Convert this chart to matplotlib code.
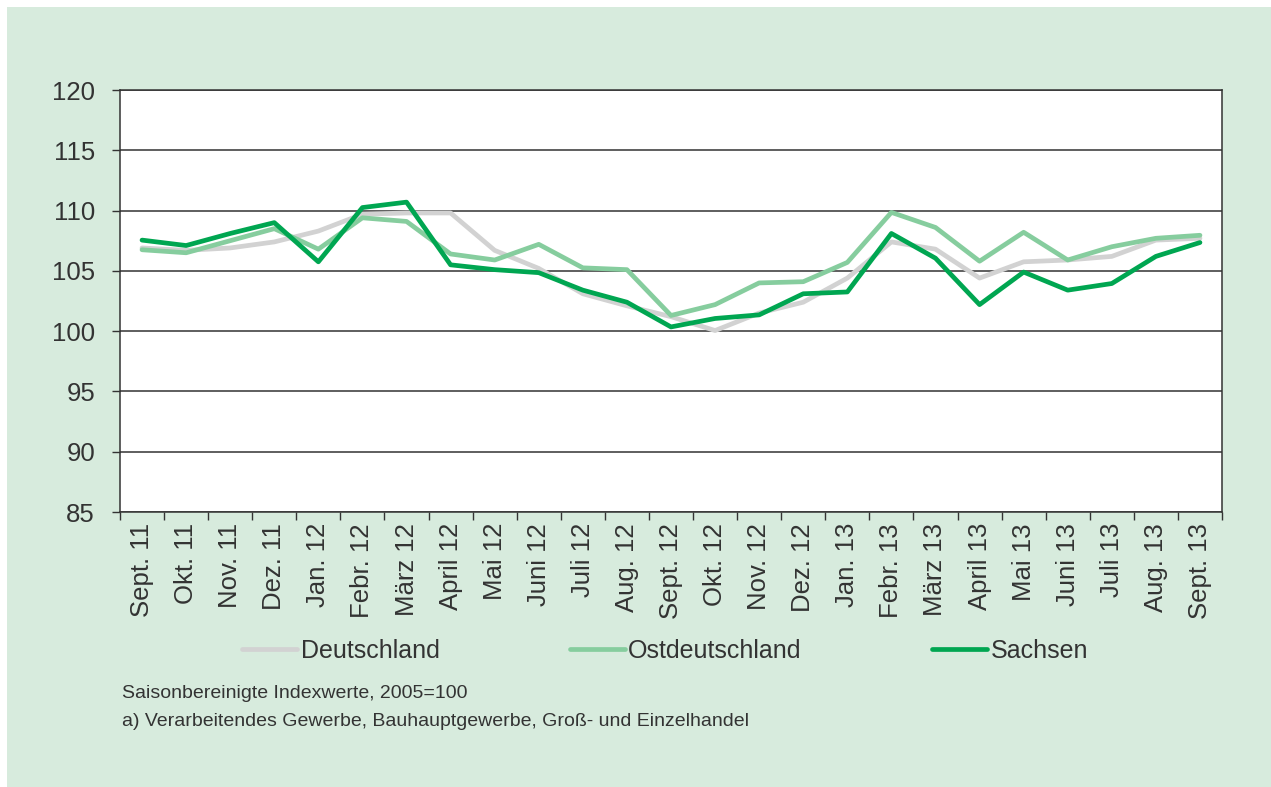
import matplotlib
matplotlib.use("Agg")
import matplotlib.pyplot as plt
from matplotlib.patches import Rectangle
import numpy as np

plt.rcParams["font.family"] = ["Liberation Sans", "DejaVu Sans"]

MONTHS = ["Sept. 11", "Okt. 11", "Nov. 11", "Dez. 11", "Jan. 12", "Febr. 12", "März 12",
          "April 12", "Mai 12", "Juni 12", "Juli 12", "Aug. 12", "Sept. 12", "Okt. 12",
          "Nov. 12", "Dez. 12", "Jan. 13", "Febr. 13", "März 13", "April 13", "Mai 13",
          "Juni 13", "Juli 13", "Aug. 13", "Sept. 13"]
deutschland = [106.9, 106.7, 106.9, 107.4, 108.3, 109.7, 109.8, 109.8, 106.7, 105.2, 103.1, 102.1,
               101.2, 100.05, 101.5, 102.4, 104.4, 107.4, 106.8, 104.4, 105.75, 105.9, 106.2, 107.55, 107.7]
ostdeutschland = [106.75, 106.5, 107.5, 108.5, 106.8, 109.4, 109.1, 106.4, 105.9, 107.2, 105.25, 105.1,
                  101.3, 102.2, 104.0, 104.1, 105.7, 109.85, 108.6, 105.8, 108.2, 105.9, 107.0, 107.7, 107.95]
sachsen = [107.55, 107.1, 108.1, 109.0, 105.75, 110.25, 110.7, 105.5, 105.1, 104.85, 103.4, 102.4,
           100.35, 101.05, 101.35, 103.1, 103.25, 108.1, 106.05, 102.2, 104.9, 103.4, 103.95, 106.2, 107.35]
YTICKS = [85, 90, 95, 100, 105, 110, 115, 120]

BG = "#d7ebdd"; TXT = "#333333"
GRY, LGR, DGR = "#d2d2d2", "#86cd9e", "#00a651"

W, H = 1271, 787
fig = plt.figure(figsize=(W/100, H/100), dpi=100)
fig.patch.set_facecolor("white")
fig.patches.append(Rectangle((7/W, 0.5/H), 1-7/W, 1-7.5/H, transform=fig.transFigure,
                             facecolor=BG, edgecolor="none", zorder=-10))

ax = fig.add_axes([120/W, 1-512/H, (1222-120)/W, (512-90)/H])
ax.set_facecolor("white")
x = np.arange(len(MONTHS))
ax.plot(x, deutschland, color=GRY, lw=3.4, label="Deutschland", solid_capstyle="round", zorder=3)
ax.plot(x, ostdeutschland, color=LGR, lw=3.4, label="Ostdeutschland", solid_capstyle="round", zorder=4)
ax.plot(x, sachsen, color=DGR, lw=3.4, label="Sachsen", solid_capstyle="round", zorder=5)

ax.set_xlim(-0.5, len(MONTHS)-0.5)
ax.set_ylim(85, 120)
ax.set_yticks(YTICKS)
ax.set_yticklabels([str(v) for v in YTICKS], fontsize=18.5, color=TXT)
ax.yaxis.grid(True, color="#333333", lw=1.1)
ax.set_axisbelow(True)

ax.set_xticks(np.arange(len(MONTHS)+1)-0.5)
ax.set_xticklabels([])
ax.set_xticks(x, minor=True)
ax.set_xticklabels(MONTHS, minor=True, rotation=90, fontsize=18.5, color=TXT, ha="center", va="top")
ax.tick_params(axis="x", which="major", direction="out", length=6, width=1, color="#333333")
ax.tick_params(axis="x", which="minor", length=0, pad=8)
ax.tick_params(axis="y", direction="out", length=6, width=1, color="#333333", pad=12)
for s in ax.spines.values():
    s.set_color("#333333"); s.set_linewidth(1.1)

fig.legend(loc="center", bbox_to_anchor=(665/W, 1-651/H), ncol=3, frameon=False,
           fontsize=18, handlelength=2.2, handletextpad=0.15, columnspacing=5.2,
           labelcolor=TXT)

fig.text(122/W, 1-694/H, "Saisonbereinigte Indexwerte, 2005=100", fontsize=14,
         color=TXT, ha="left", va="center")
fig.text(122/W, 1-721/H, "a) Verarbeitendes Gewerbe, Bauhauptgewerbe, Groß- und Einzelhandel",
         fontsize=14, color=TXT, ha="left", va="center")

fig.savefig("out.png", dpi=100)
